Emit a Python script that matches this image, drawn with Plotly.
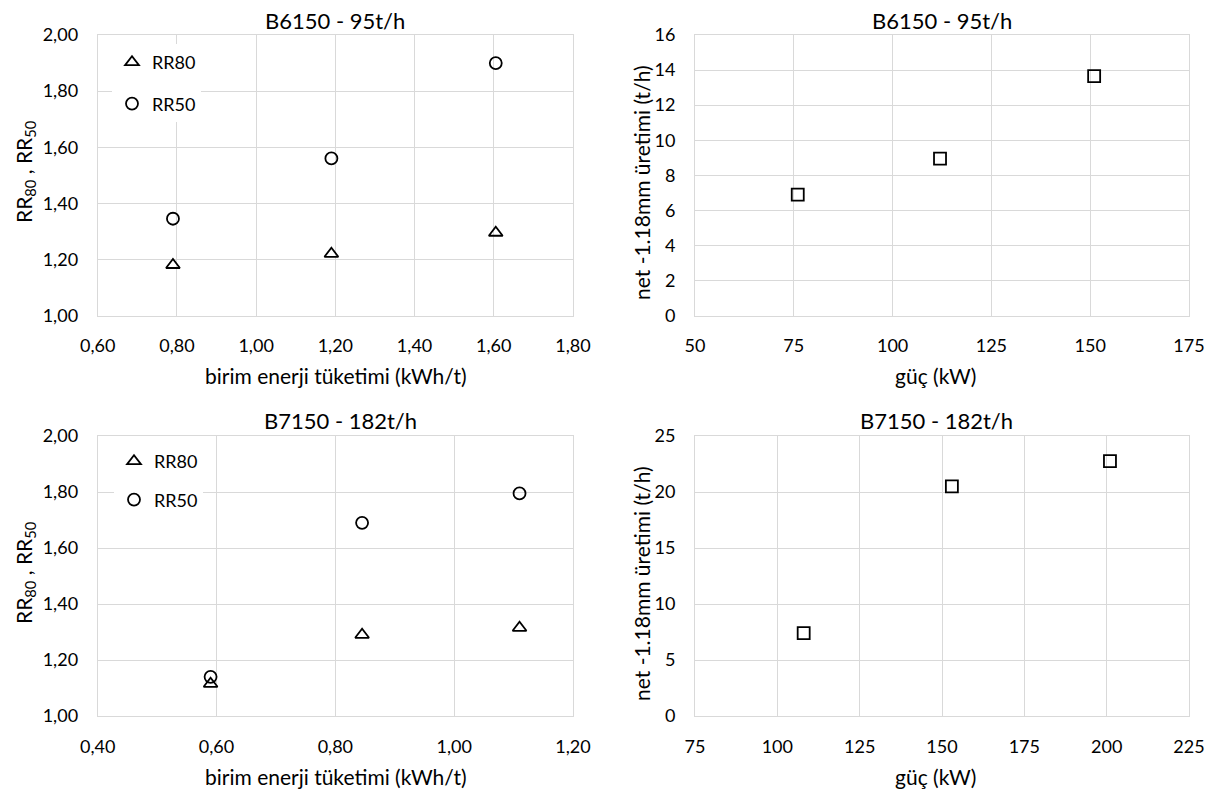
import plotly.graph_objects as go

# ---------------- data ----------------
tl_x = [0.79, 1.19, 1.605]
tl_rr80 = [1.18, 1.22, 1.295]
tl_rr50 = [1.345, 1.56, 1.90]

tr_x = [76, 112, 151]
tr_y = [6.9, 8.95, 13.65]

bl_x = [0.59, 0.845, 1.11]
bl_rr80 = [1.115, 1.29, 1.315]
bl_rr50 = [1.14, 1.69, 1.795]

br_x = [108, 153, 201]
br_y = [7.4, 20.5, 22.75]

titles = ["B6150 - 95t/h", "B6150 - 95t/h", "B7150 - 182t/h", "B7150 - 182t/h"]
xtitle_left = "birim enerji tüketimi (kWh/t)"
xtitle_right = "güç (kW)"
ytitle_left = "RR<sub>80</sub> , RR<sub>50</sub>"
ytitle_right = "net -1.18mm üretimi (t/h)"

# ---------------- layout geometry (window pixels) ----------------
W, H = 1215, 792
FONT = "Lato, 'Open Sans', sans-serif"
GRID = "#d9d9d9"

def px_x(p):
    return p / W

def px_y(p):
    return 1 - p / H

L_X = (97.7, 573.0)
R_X = (695.0, 1189.0)
T_Y = (35.0, 315.5)
B_Y = (436.0, 716.0)

fig = go.Figure()

def add(x, y, sym, size, name, xa, ya, legend=None, show=False, group=None):
    fig.add_trace(go.Scatter(
        x=x, y=y, mode="markers", name=name,
        marker=dict(symbol=sym, size=size, color="black",
                    line=dict(width=1.8, color="black")),
        xaxis=xa, yaxis=ya, showlegend=show,
        legend=legend, legendgroup=group,
        hoverinfo="x+y",
    ))

add(tl_x, tl_rr80, "triangle-up-open", 12, "RR80", "x", "y", "legend", True, "a")
add(tl_x, tl_rr50, "circle-open", 12, "RR50", "x", "y", "legend", True, "b")
add(tr_x, tr_y, "square-open", 12, "net", "x2", "y2")
add(bl_x, bl_rr80, "triangle-up-open", 12, "RR80", "x3", "y3", "legend2", True, "c")
add(bl_x, bl_rr50, "circle-open", 12, "RR50", "x3", "y3", "legend2", True, "d")
add(br_x, br_y, "square-open", 12, "net", "x4", "y4")

tickfont = dict(family=FONT, size=18, color="black")

def axis(domain, rng, dtick, anchor, fmt=None, ylike=False):
    d = dict(
        domain=domain, range=rng, dtick=dtick, tick0=rng[0], anchor=anchor,
        showgrid=True, gridcolor=GRID, gridwidth=1,
        showline=True, mirror=True, linecolor=GRID, linewidth=1,
        zeroline=False, ticks="", tickfont=tickfont,
        ticklabelstandoff=15 if ylike else 14,
        fixedrange=True, automargin=False,
    )
    if fmt:
        d["tickformat"] = fmt
    return d

lxd = [px_x(L_X[0]), px_x(L_X[1])]
rxd = [px_x(R_X[0]), px_x(R_X[1])]
tyd = [px_y(T_Y[1]), px_y(T_Y[0])]
byd = [px_y(B_Y[1]), px_y(B_Y[0])]

legfont = dict(family=FONT, size=18, color="black")

fig.update_layout(
    template="none",
    width=W, height=H,
    margin=dict(l=0, r=0, t=0, b=0, autoexpand=False),
    paper_bgcolor="white", plot_bgcolor="white",
    separators=",.",
    font=dict(family=FONT, size=18, color="black"),
    xaxis=axis(lxd, [0.6, 1.8], 0.2, "y", ".2f"),
    yaxis=axis(tyd, [1.0, 2.0], 0.2, "x", ".2f", True),
    xaxis2=axis(rxd, [50, 175], 25, "y2"),
    yaxis2=axis(tyd, [0, 16], 2, "x2", None, True),
    xaxis3=axis(lxd, [0.4, 1.2], 0.2, "y3", ".2f"),
    yaxis3=axis(byd, [1.0, 2.0], 0.2, "x3", ".2f", True),
    xaxis4=axis(rxd, [75, 225], 25, "y4"),
    yaxis4=axis(byd, [0, 25], 5, "x4", None, True),
    legend=dict(
        x=px_x(112), y=px_y(44), xanchor="left", yanchor="top",
        bgcolor="white", borderwidth=0, font=legfont,
        tracegroupgap=15, traceorder="grouped", itemwidth=30,
    ),
    legend2=dict(
        x=px_x(114), y=px_y(443), xanchor="left", yanchor="top",
        bgcolor="white", borderwidth=0, font=legfont,
        tracegroupgap=12, traceorder="grouped", itemwidth=30,
    ),
    showlegend=True,
)

ann = []
tfont = dict(family=FONT, size=22, color="black")
afont = dict(family=FONT, size=21, color="black")

def note(text, x, y, font, angle=0):
    ann.append(dict(text=text, x=px_x(x), y=px_y(y), xref="paper", yref="paper",
                    xanchor="center", yanchor="middle", textangle=angle,
                    showarrow=False, font=font))

# chart titles
note(titles[0], 335, 20, tfont)
note(titles[1], 942, 20, tfont)
note(titles[2], 340, 420, tfont)
note(titles[3], 936, 420, tfont)
# x axis titles
note(xtitle_left, 336, 375, afont)
note(xtitle_right, 935, 375, afont)
note(xtitle_left, 336, 776, afont)
note(xtitle_right, 935, 776, afont)
# y axis titles
note(ytitle_left, 25, 172, afont, -90)
note(ytitle_right, 641, 183, afont, -90)
note(ytitle_left, 25, 573, afont, -90)
note(ytitle_right, 641, 584, afont, -90)

fig.update_layout(annotations=ann)

# remove the browser's default 8px body margin so the figure fills the window
fig.write_html(
    "out.html",
    config={"displayModeBar": False},
    post_script="document.body.style.margin='0';document.body.style.overflow='hidden';",
)
